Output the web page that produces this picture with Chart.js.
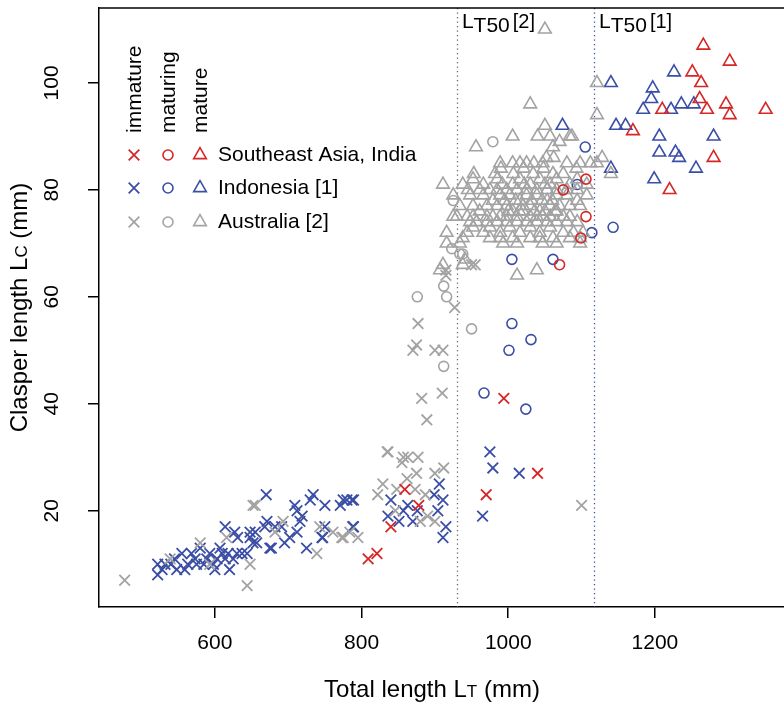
<!DOCTYPE html>
<html>
<head>
<meta charset="utf-8">
<script src="https://cdn.jsdelivr.net/npm/chart.js@4.4.1/dist/chart.umd.min.js"></script>
<style>
  html, body { margin: 0; padding: 0; background: #fff; overflow: hidden; }
  #wrap { width: 784px; height: 706px; position: relative; }
</style>
</head>
<body>
<div id="wrap"><canvas id="chart"></canvas></div>
<script>
// axes
const ticksX = [600, 800, 1000, 1200];
const ticksY = [20, 40, 60, 80, 100];
const rangeX = [442, 1376];
const rangeY = [2, 114];

// legend
const regions = ['Southeast Asia, India', 'Indonesia [1]', 'Australia [2]'];
const stages = ['immature', 'maturing', 'mature'];

// length at 50% maturity, [1] Indonesia and [2] Australia
const lt50 = [1117, 930];
const lt50Refs = ['[1]', '[2]'];

// Southeast Asia, India  [total length, clasper length]
const seaImmature = [[994,41],[1040,27],[970,23],[859,24],[878,21],[840,17],[809,11],[821,12]];
const seaMaturing = [[1070,66],[1106,82],[1075,80],[1106,75],[1099,71]];
const seaMature = [[1266,107],[1302,104],[1251,102],[1263,100],[1261,97],[1297,96],[1271,95],[1302,94],
  [1351,95],[1210,95],[1170,91],[1280,86],[1220,80]];

// Indonesia [1]
const indImmature = [[975,31],[979,28],[1015,27],[965,19],
  [775,22],[789,22],[789,17],[840,22],[836,19],[857,20],[851,18],[863,21],[870,18],[876,20],
  [906,25],[899,23],[911,22],[904,20],[915,17],[911,15],
  [670,23],[709,21],[734,23],[730,22],[750,21],[771,21],[780,22],[787,22],[712,20],[719,19],
  [716,18],[671,18],[691,17],[655,16],[712,16],[746,15],[750,17],[788,17],[695,14],[675,13],
  [725,13],[648,15],[657,14],[702,15],[668,17],[682,17],[677,13],[747,15],
  [522,10],[522,8],[532,10],[548,9],[545,11],[555,12],[563,10],[573,11],[580,13],[589,11],
  [593,12],[603,11],[607,13],[614,11],[620,9],[618,12],[625,11],[630,12],[614,17],[627,16],
  [631,15],[648,16],[652,14],[637,12],[644,12],[575,10],[559,9],[598,10],[568,12],[585,10],
  [610,12],[600,9],[540,10],[528,9]];
const indMaturing = [[1005,67],[1061,67],[1005,55],[1031,52],[1001,50],[967,42],[1024,39],
  [1105,88],[1094,81],[1114,72],[1143,73]];
const indMature = [[1074,92],[1140,100],[1226,102],[1197,99],[1195,97],[1184,95],[1222,95],
  [1236,96],[1253,96],[1147,92],[1160,92],[1206,90],[1280,90],[1206,87],[1228,87],[1233,86],
  [1256,84],[1140,84],[1199,82]];

// Australia [2]
const ausImmature = [[877,55],[875,51],[870,50],[900,50],[911,50],[927,58],[882,41],[910,42],
  [889,37],[915,65],[955,66],[950,66],[915,64],
  [835,31],[836,31],[857,30],[863,30],[877,30],[855,29],[875,27],[900,27],[912,28],
  [829,25],[822,23],[848,24],[873,24],[887,23],[890,19],[900,18],[784,16],[795,15],[775,15],
  [862,26],[846,20],[880,18],
  [655,21],[693,18],[743,17],[761,16],[773,15],[739,12],[682,16],
  [477,7],[652,21],[644,6],[648,10],[580,14],[539,11],[616,15],[593,10],[1100,21]];
const ausMaturing = [[979,89],[925,78],[923,69],[938,68],[876,60],[912,62],[916,60],[912,47],
  [950,54],[934,68]];
const ausMature = [[1050,110],[1030,96],[956,88],[1006,90],[1040,90],[1057,90],[1070,89],
  [1084,90],[1050,92],[1061,88],[1052,86],[1087,90],[1121,100],[1121,94],[1128,86],[1121,85],
  [1140,83],[1112,85],
  [989,85],[1006,85],[1025,85],[1047,85],[1062,86],[1080,85],[1098,85],[1035,85],[1016,85],
  [953,83],[982,83],[990,84],[1007,83],[1021,84],[1034,83],[1048,84],[1061,83],[1075,83],[1093,84],
  [911,81],[938,81],[952,82],[966,81],[985,82],[1006,81],[1016,82],[1030,81],[1043,82],[1057,81],
  [1066,82],[1084,81],[1094,82],[1107,81],[992,81],[1022,81],[1050,81],
  [945,80],[961,80],[975,80],[985,80],[998,80],[1012,80],[1025,80],[1039,80],[1053,80],[1066,80],
  [1080,80],[1094,80],
  [925,79],[948,79],[966,79],[979,78],[989,79],[1002,79],[1016,78],[1025,79],[1039,79],[1053,78],
  [1066,79],[1080,79],[1094,78],[1107,79],[995,78],[1010,78],[1032,78],[1046,78],[1060,78],
  [934,77],[952,77],[971,77],[985,77],[998,77],[1006,76],[1020,77],[1030,77],[1043,76],[1057,77],
  [1070,77],[1084,77],[1098,77],[1000,76],[1015,76],[1036,76],[1050,76],[1064,76],
  [925,75],[930,75],[944,75],[952,75],[961,76],[971,75],[979,75],[989,75],[998,75],[1012,75],
  [1020,76],[1030,75],[1039,75],[1047,75],[1057,75],[1066,76],[1075,75],[1084,75],
  [948,74],[957,74],[971,74],[985,74],[998,74],[1012,74],[1025,74],[1039,74],[1053,74],[1066,74],
  [1080,74],[1094,74],
  [916,72],[944,72],[952,73],[966,72],[975,73],[989,72],[1002,73],[1016,72],[1030,73],[1043,72],
  [1057,73],[1075,72],[1089,72],[1102,72],
  [938,71],[975,71],[989,71],[1006,71],[1030,71],[1043,71],[1061,71],[1084,71],[1098,71],
  [916,70],[934,70],[993,70],[1012,70],[1047,70],[1066,70],[1098,70],
  [911,66],[938,66],[1012,64],[1039,65],[907,65],[941,67]];

const RED = '#d62626';
const BLUE = '#3a4ea6';
const GREY = '#a3a3a3';
const FONT = "'Liberation Sans', Arial, Helvetica, sans-serif";

const styles = [
  { pointStyle: 'crossRot', radius: 7.5, width: 1.8 },
  { pointStyle: 'circle', radius: 5, width: 1.6 },
  { pointStyle: 'triangle', radius: 7.3, width: 1.6 }
];
const regionColors = [RED, BLUE, GREY];

function serie(points, color, stage) {
  const st = styles[stage];
  return {
    data: points.map(([x, y]) => ({ x, y })),
    pointStyle: st.pointStyle,
    pointRadius: st.radius,
    pointHoverRadius: st.radius,
    pointBorderColor: color,
    pointBackgroundColor: 'rgba(0,0,0,0)',
    pointBorderWidth: st.width,
    showLine: false
  };
}

// draw text pieces of different size one after the other
function drawPieces(ctx, pieces, x, y, centered) {
  let total = 0;
  pieces.forEach(p => { ctx.font = p.size + 'px ' + FONT; p.w = ctx.measureText(p.t).width + (p.gap || 0); total += p.w; });
  let cx = centered ? x - total / 2 : x;
  pieces.forEach(p => {
    ctx.font = p.size + 'px ' + FONT;
    ctx.fillText(p.t, cx, y + (p.dy || 0));
    cx += p.w;
  });
}

const rPlot = {
  id: 'rPlot',
  beforeDatasetsDraw(chart) {
    const { ctx, chartArea: a, scales: { x } } = chart;
    ctx.save();
    ctx.lineWidth = 1.3;
    ctx.setLineDash([1.3, 3.2]);
    [BLUE, '#666'].forEach((c, i) => {
      const px = Math.round(x.getPixelForValue(lt50[i])) + 0.5;
      ctx.strokeStyle = c;
      ctx.beginPath();
      ctx.moveTo(px, a.top);
      ctx.lineTo(px, a.bottom);
      ctx.stroke();
    });
    ctx.restore();
  },
  afterDraw(chart) {
    const { ctx, chartArea: a, scales: { x, y } } = chart;
    ctx.save();
    ctx.fillStyle = '#000';
    ctx.strokeStyle = '#000';
    ctx.lineWidth = 1.5;
    ctx.beginPath();
    ctx.moveTo(a.left - 0.75, a.top);
    ctx.lineTo(a.right, a.top);
    ctx.stroke();

    // LT50 labels
    ctx.textAlign = 'left';
    ctx.textBaseline = 'alphabetic';
    lt50.forEach((v, i) => {
      const px = x.getPixelForValue(v) + 5;
      drawPieces(ctx, [
        { t: 'L', size: 21 },
        { t: 'T50', size: 21, dy: 4, gap: 3 },
        { t: lt50Refs[i], size: 20, dy: 0 }
      ], px, 28, false);
    });

    // y tick labels, rotated
    ctx.font = '21px ' + FONT;
    ctx.textAlign = 'center';
    ctx.textBaseline = 'middle';
    ticksY.forEach(v => {
      ctx.save();
      ctx.translate(52, y.getPixelForValue(v));
      ctx.rotate(-Math.PI / 2);
      ctx.fillText(String(v), 0, 0);
      ctx.restore();
    });

    // axis titles
    ctx.textAlign = 'left';
    ctx.textBaseline = 'middle';
    drawPieces(ctx, [
      { t: 'Total length L', size: 24 },
      { t: 'T', size: 17, dy: 2 },
      { t: ' (mm)', size: 24 }
    ], 432, 690, true);
    ctx.save();
    ctx.translate(20, (a.top + a.bottom) / 2);
    ctx.rotate(-Math.PI / 2);
    drawPieces(ctx, [
      { t: 'Clasper length L', size: 24 },
      { t: 'C', size: 17, dy: 2 },
      { t: ' (mm)', size: 24 }
    ], 0, 0, true);
    ctx.restore();

    // legend: stage headers
    const colX = [134, 168, 200];
    const rowY = [155, 188, 222];
    ctx.font = '21px ' + FONT;
    ctx.textAlign = 'left';
    ctx.textBaseline = 'alphabetic';
    stages.forEach((s, j) => {
      ctx.save();
      ctx.translate(colX[j] + 7, 133);
      ctx.rotate(-Math.PI / 2);
      ctx.fillText(s, 0, 0);
      ctx.restore();
    });
    // legend: markers and region names
    regions.forEach((r, i) => {
      styles.forEach((st, j) => {
        ctx.strokeStyle = regionColors[i];
        ctx.fillStyle = 'rgba(0,0,0,0)';
        ctx.lineWidth = st.width;
        Chart.helpers.drawPoint(ctx, { pointStyle: st.pointStyle, radius: st.radius, rotation: 0, borderWidth: st.width }, colX[j], rowY[i]);
      });
      ctx.fillStyle = '#000';
      ctx.font = '21px ' + FONT;
      ctx.textBaseline = 'middle';
      ctx.fillText(r, 218, rowY[i]);
    });
    ctx.restore();
  }
};

const axisLine = { display: true, color: '#000', width: 1.5 };
const tickMarks = { drawOnChartArea: false, drawTicks: true, tickLength: 11, color: '#000', lineWidth: 1.5 };

new Chart(document.getElementById('chart'), {
  type: 'scatter',
  data: {
    datasets: [
      serie(seaImmature, RED, 0),
      serie(seaMaturing, RED, 1),
      serie(seaMature, RED, 2),
      serie(ausImmature, GREY, 0),
      serie(ausMaturing, GREY, 1),
      serie(ausMature, GREY, 2),
      serie(indImmature, BLUE, 0),
      serie(indMaturing, BLUE, 1),
      serie(indMature, BLUE, 2)
    ]
  },
  options: {
    responsive: true,
    maintainAspectRatio: false,
    animation: false,
    events: [],
    layout: { autoPadding: false, padding: { top: 8, left: 0, right: 0, bottom: 0 } },
    plugins: { legend: { display: false }, tooltip: { enabled: false } },
    scales: {
      x: {
        type: 'linear',
        min: rangeX[0],
        max: rangeX[1],
        afterBuildTicks: s => { s.ticks = ticksX.map(v => ({ value: v })); },
        afterFit: s => { s.height = 99; },
        ticks: { color: '#000', padding: 13, font: { size: 21, family: FONT }, maxRotation: 0, callback: v => String(v) },
        grid: tickMarks,
        border: axisLine
      },
      y: {
        type: 'linear',
        min: rangeY[0],
        max: rangeY[1],
        afterBuildTicks: s => { s.ticks = ticksY.map(v => ({ value: v })); },
        afterFit: s => { s.width = 99; },
        ticks: { display: false },
        grid: tickMarks,
        border: axisLine
      }
    }
  },
  plugins: [rPlot]
});
</script>
</body>
</html>
